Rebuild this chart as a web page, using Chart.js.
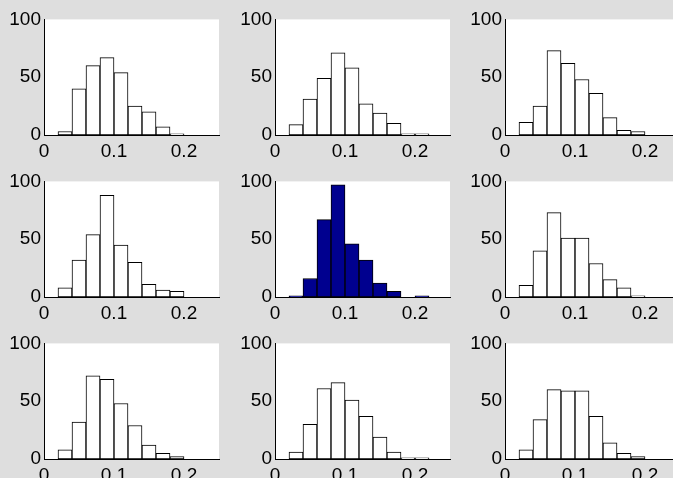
<!DOCTYPE html>
<html>
<head>
<meta charset="utf-8">
<script src="https://cdn.jsdelivr.net/npm/chart.js@4"></script>
<style>
    html, body { margin:0; padding:0; background:#dedede; overflow:hidden; }
    body { width:673px; height:478px; position:relative; }
    canvas { position:absolute; }
</style>
</head>
<body>

<canvas id="h1" width="225" height="160" style="left:0px;top:5px"></canvas>
<canvas id="h2" width="225" height="160" style="left:231px;top:5px"></canvas>
<canvas id="h3" width="225" height="160" style="left:461px;top:5px"></canvas>
<canvas id="h4" width="225" height="160" style="left:0px;top:167px"></canvas>
<canvas id="h5" width="225" height="160" style="left:231px;top:167px"></canvas>
<canvas id="h6" width="225" height="160" style="left:461px;top:167px"></canvas>
<canvas id="h7" width="225" height="160" style="left:0px;top:329px"></canvas>
<canvas id="h8" width="225" height="160" style="left:231px;top:329px"></canvas>
<canvas id="h9" width="225" height="160" style="left:461px;top:329px"></canvas>

<script>

/* DATA */

const binCenters = [0.03,0.05,0.07,0.09,0.11,0.13,0.15,0.17,0.19,0.21,0.23];

const xTicks = [0,0.1,0.2];
const yTicks = [0,50,100];

const counts1 = [3,40,60,67,54,25,20,7,1,0,0];
const counts2 = [9,31,49,71,58,27,19,10,1,1,0];
const counts3 = [11,25,73,62,48,36,15,4,3,0,0];
const counts4 = [8,32,54,88,45,30,11,6,5,0,0];
const counts5 = [1,16,67,97,46,32,12,5,0,1,0];
const counts6 = [10,40,73,51,51,29,15,8,1,0,0];
const counts7 = [8,32,72,69,48,29,12,5,2,0,0];
const counts8 = [6,30,61,66,51,37,19,6,1,1,0];
const counts9 = [8,34,60,59,59,37,14,5,2,0,0];

/* PANEL BACKGROUND */

const whiteArea = {
    id:'whiteArea',
    beforeDraw(chart){
        const a = chart.chartArea;
        const ctx = chart.ctx;
        ctx.save();
        ctx.fillStyle = '#ffffff';
        ctx.fillRect(a.left, a.top, a.right-a.left, a.bottom-a.top);
        ctx.restore();
    }
};

Chart.defaults.font.family = '"Liberation Sans", Arial, sans-serif';
Chart.defaults.font.size = 19;
Chart.defaults.color = '#000000';

/* HISTOGRAM */

function makeHist(id, counts, fill){

    return new Chart(document.getElementById(id),{

        type:'bar',

        data:{
            datasets:[{
                data:binCenters.map((x,i)=>({x:x, y:counts[i]})),
                backgroundColor:fill,
                borderColor:'#000000',
                borderWidth:1,
                borderSkipped:false,
                barPercentage:1,
                categoryPercentage:1
            }]
        },

        options:{
            responsive:false,
            animation:false,
            events:[],
            layout:{ padding:{ top:12, right:6, left:0, bottom:0 } },
            plugins:{ legend:{display:false}, tooltip:{enabled:false} },
            scales:{
                x:{
                    type:'linear',
                    min:0,
                    max:0.25,
                    offset:false,
                    grid:{display:false, drawTicks:false},
                    border:{display:true, color:'#000000', width:1},
                    afterBuildTicks:(s)=>{ s.ticks = xTicks.map(v=>({value:v})); },
                    ticks:{ padding:5, maxRotation:0, autoSkip:false },
                    afterFit:(s)=>{ s.height = 30; }
                },
                y:{
                    min:0,
                    max:100,
                    grid:{display:false, drawTicks:false},
                    border:{display:true, color:'#000000', width:1},
                    afterBuildTicks:(s)=>{ s.ticks = yTicks.map(v=>({value:v})); },
                    ticks:{ padding:3 },
                    afterFit:(s)=>{ s.width = 44; }
                }
            }
        },

        plugins:[whiteArea]

    });

}

makeHist('h1', counts1, '#ffffff');
makeHist('h2', counts2, '#ffffff');
makeHist('h3', counts3, '#ffffff');
makeHist('h4', counts4, '#ffffff');
makeHist('h5', counts5, '#00008f');
makeHist('h6', counts6, '#ffffff');
makeHist('h7', counts7, '#ffffff');
makeHist('h8', counts8, '#ffffff');
makeHist('h9', counts9, '#ffffff');

</script>
</body>
</html>
